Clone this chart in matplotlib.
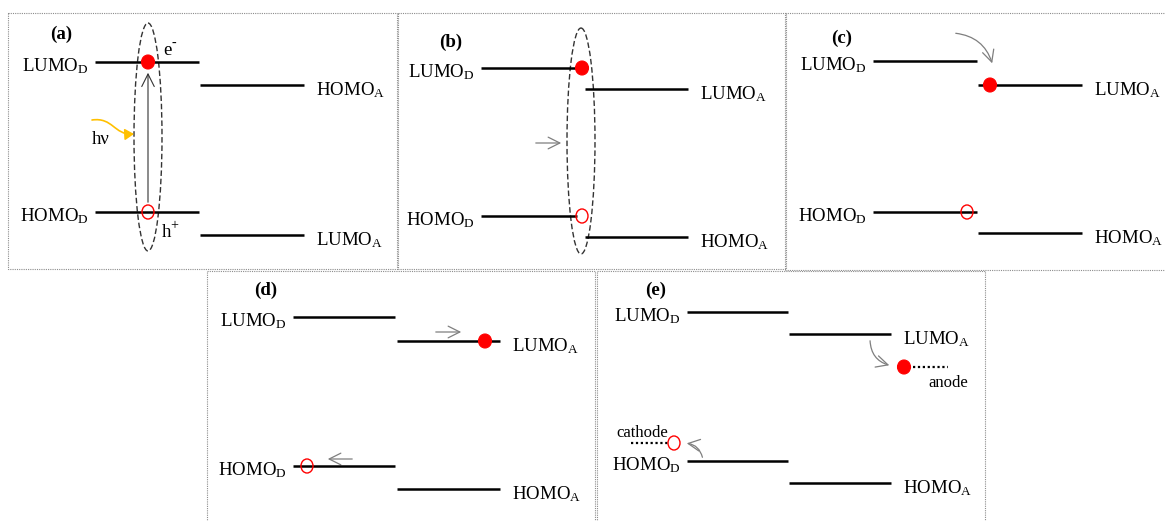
import matplotlib
matplotlib.use("Agg")
import matplotlib.pyplot as plt
from matplotlib.patches import Ellipse, Rectangle, FancyArrowPatch
from matplotlib.path import Path

plt.rcParams['font.family'] = ['Liberation Serif', 'DejaVu Serif']
plt.rcParams['mathtext.fontset'] = 'custom'
plt.rcParams['mathtext.rm'] = 'Liberation Serif'
plt.rcParams['mathtext.it'] = 'Liberation Serif:italic'

# ---- data (schematic energy levels, pixel frame of the reference) ----
panel_names = ['(a)', '(b)', '(c)', '(d)', '(e)']
panel_name_xy = [(61, 34), (451, 42), (842, 38), (266, 290), (656, 290)]
panel_boxes = [(8, 13, 397, 269), (398, 13, 786, 269), (785, 13, 1170, 270),
               (207, 271, 595, 530), (597, 271, 985, 530)]

donor_x = [(95, 199), (481, 577), (873, 977), (293, 395), (687, 788)]
acceptor_x = [(200, 304), (585, 688), (978, 1082), (397, 500), (789, 891)]
donor_top = [62, 68, 61, 317, 312]
donor_bottom = [212, 216, 212, 466, 461]
acceptor_top = [85, 89, 85, 341, 334]
acceptor_bottom = [235, 237, 233, 489, 483]
donor_labels = [r'LUMO$_\mathrm{D}$', r'HOMO$_\mathrm{D}$']
acceptor_top_labels = [r'HOMO$_\mathrm{A}$', r'LUMO$_\mathrm{A}$', r'LUMO$_\mathrm{A}$',
                       r'LUMO$_\mathrm{A}$', r'LUMO$_\mathrm{A}$']
acceptor_bottom_labels = [r'LUMO$_\mathrm{A}$', r'HOMO$_\mathrm{A}$', r'HOMO$_\mathrm{A}$',
                          r'HOMO$_\mathrm{A}$', r'HOMO$_\mathrm{A}$']

electron_xy = [(148, 62), (582, 68), (990, 85), (485, 341), (904, 367)]
hole_xy = [(148, 212), (582, 216), (967, 212), (307, 466), (674, 443)]

fig = plt.figure(figsize=(11.65, 5.21), dpi=100)
ax = fig.add_axes([0, 0, 1, 1])
ax.set_xlim(0, 1165)
ax.set_ylim(521, 0)
ax.axis('off')

FS = 13.6
GRAY = '#7f7f7f'

for i in range(5):
    x0, y0, x1, y1 = panel_boxes[i]
    ax.add_patch(Rectangle((x0, y0), x1 - x0, y1 - y0, fill=False,
                           ls=(0, (1, 1)), lw=0.8, ec='#8c8c8c'))
    ax.text(*panel_name_xy[i], panel_names[i], fontsize=FS, fontweight='bold',
            ha='center', va='center')
    dx0, dx1 = donor_x[i]
    ax0, ax1 = acceptor_x[i]
    for y, lab in zip([donor_top[i], donor_bottom[i]], donor_labels):
        ax.plot([dx0, dx1], [y, y], color='black', lw=1.8, solid_capstyle='butt')
        ax.text(dx0 - 6, y + 9, lab, fontsize=FS, ha='right', va='baseline')
    for y, lab in zip([acceptor_top[i], acceptor_bottom[i]],
                      [acceptor_top_labels[i], acceptor_bottom_labels[i]]):
        ax.plot([ax0, ax1], [y, y], color='black', lw=1.8, solid_capstyle='butt')
        ax.text(ax1 + 12, y + 10, lab, fontsize=FS, ha='left', va='baseline')
    ex, ey = electron_xy[i]
    ax.add_patch(Ellipse((ex, ey), 13, 14, fc='red', ec='red', lw=0.8, zorder=5))
    hx, hy = hole_xy[i]
    ax.add_patch(Ellipse((hx, hy), 12, 14, fc='none', ec='red', lw=1.0, zorder=5))

# (a) exciton ellipse, excitation arrow, photon
ax.add_patch(Ellipse((148, 137), 28, 228, fill=False, ls=(0, (4, 2)), lw=1.0, ec='#333333'))
ax.add_patch(FancyArrowPatch((148, 205), (148, 70), arrowstyle='->,head_length=0.5,head_width=0.25',
                             mutation_scale=18, lw=0.8, color='#333333'))
ax.text(163, 55, 'e', fontsize=FS, ha='left', va='baseline')
ax.text(171, 47, '-', fontsize=10, ha='left', va='baseline')
ax.text(162, 237, 'h', fontsize=FS, ha='left', va='baseline')
ax.text(170, 229, '+', fontsize=10, ha='left', va='baseline')
ax.text(92, 139, 'hν', fontsize=FS, ha='left', va='center')
photon_path = Path([(92, 120), (113, 117), (114, 135), (134, 134)],
                   [Path.MOVETO, Path.CURVE4, Path.CURVE4, Path.CURVE4])
ax.add_patch(FancyArrowPatch(path=photon_path,
                             arrowstyle='-|>,head_length=0.45,head_width=0.28',
                             mutation_scale=12, lw=1.2, color='#FFC000'))

# (b) exciton ellipse and arrow
ax.add_patch(Ellipse((581, 141), 28, 226, fill=False, ls=(0, (4, 2)), lw=1.0, ec='#333333'))
ax.add_patch(FancyArrowPatch((533, 143), (564, 143), arrowstyle='->,head_length=0.6,head_width=0.3',
                             mutation_scale=14, lw=0.9, color=GRAY))

# (c) charge transfer arrow
ax.add_patch(FancyArrowPatch((953, 33), (993, 66), connectionstyle='arc3,rad=-0.35',
                             arrowstyle='->,head_length=0.6,head_width=0.3',
                             mutation_scale=14, lw=0.9, color=GRAY))

# (d) charge transport arrows
ax.add_patch(FancyArrowPatch((433, 332), (464, 332), arrowstyle='->,head_length=0.6,head_width=0.3',
                             mutation_scale=14, lw=0.9, color=GRAY))
ax.add_patch(FancyArrowPatch((355, 459), (325, 459), arrowstyle='->,head_length=0.6,head_width=0.3',
                             mutation_scale=14, lw=0.9, color=GRAY))

# (e) charge collection
ax.plot([913, 948], [367, 367], color='black', ls=(0, (1, 1.2)), lw=1.6)
ax.text(928, 383, 'anode', fontsize=12, ha='left', va='center')
ax.add_patch(FancyArrowPatch((870, 338), (892, 366), connectionstyle='arc3,rad=0.4',
                             arrowstyle='->,head_length=0.6,head_width=0.3',
                             mutation_scale=14, lw=0.9, color=GRAY))
ax.plot([631, 668], [443, 443], color='black', ls=(0, (1, 1.2)), lw=1.6)
ax.text(616, 433, 'cathode', fontsize=12, ha='left', va='center')
ax.add_patch(FancyArrowPatch((703, 460), (684, 443), connectionstyle='arc3,rad=0.4',
                             arrowstyle='->,head_length=0.6,head_width=0.3',
                             mutation_scale=14, lw=0.9, color=GRAY))

fig.savefig('out.png', dpi=100)
